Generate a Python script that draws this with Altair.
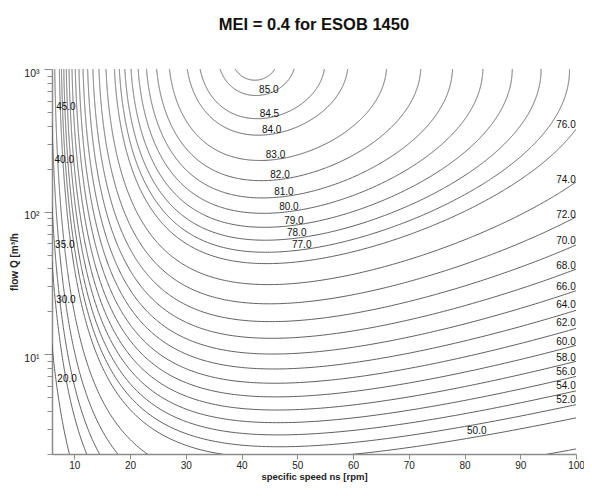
import numpy as np
import pandas as pd
import altair as alt

TITLE = "MEI = 0.4 for ESOB 1450"
X_TITLE = "specific speed ns [rpm]"
Y_TITLE = "flow Q [m³/h"

# Published minimum-efficiency equation behind the chart (ESOB 1450, MEI = 0.4):
# eta = c_x*x + c_y*y + c_xx*x^2 + c_yy*y^2 + c_xy*x*y - C,  x = ln(ns), y = ln(Q)
eq_terms = ["x", "y", "xx", "yy", "xy"]
eq_coefficients = [88.59, 13.46, -11.48, -0.85, -0.38]
eq_constant = 128.07

# contour levels drawn in the reference
contour_levels = [20, 30, 35, 40, 45, 50, 52, 54, 56, 58, 60, 62, 64, 66, 68, 70,
                  72, 74, 76, 77, 78, 79, 80, 81, 82, 83, 84, 84.5, 85, 85.2]

# contour labels (text, ns, Q)
label_text = ["85.0", "84.5", "84.0", "83.0", "82.0", "81.0", "80.0", "79.0", "78.0", "77.0",
              "76.0", "74.0", "72.0", "70.0", "68.0", "66.0", "64.0", "62.0", "60.0", "58.0",
              "56.0", "54.0", "52.0", "50.0", "45.0", "40.0", "35.0", "30.0", "20.0"]
label_ns = [44.9, 45.0, 45.4, 46.1, 46.9, 47.6, 48.5, 49.4, 49.9, 50.8,
            98.2, 98.2, 98.2, 98.2, 98.2, 98.2, 98.2, 98.2, 98.2, 98.2,
            98.2, 98.2, 98.2, 82.2, 8.5, 8.2, 8.3, 8.5, 8.7]
label_q = [709, 483, 374, 249, 181, 138, 107, 86.6, 70.3, 58.1,
           405, 167, 95.3, 61.9, 41.5, 29.7, 22.0, 16.7, 12.1, 9.38,
           7.50, 6.00, 4.82, 2.90, 545, 230, 58.5, 24.1, 6.70]

ns_domain = [6, 100]
q_domain = [2, 1000]
x_ticks = [10, 15, 20, 25, 30, 35, 40, 45, 50, 55, 60, 65, 70, 75, 80, 85, 90, 95, 100]
y_ticks = [2, 3, 4, 5, 6, 7, 8, 9, 10, 20, 30, 40, 50, 60, 70, 80, 90,
           100, 200, 300, 400, 500, 600, 700, 800, 900, 1000]

# ---- contour lines of the equation (ellipses in ln-ln space) ----
cx, cy, cxx, cyy, cxy = eq_coefficients
A = np.array([[2 * cxx, cxy], [cxy, 2 * cyy]])
xc, yc = np.linalg.solve(A, [-cx, -cy])


def eta(x, y):
    return cx * x + cy * y + cxx * x * x + cyy * y * y + cxy * x * y - eq_constant


fmax = eta(xc, yc)
n = 2400
th = np.linspace(0, 2 * np.pi, n, endpoint=False)
c, s = np.cos(th), np.sin(th)
qd = cxx * c * c + cxy * c * s + cyy * s * s

rows = []
seg = 0
for L in contour_levels:
    r = np.sqrt((L - fmax) / qd)
    ns = np.exp(xc + r * c)
    q = np.exp(yc + r * s)
    inside = (ns >= ns_domain[0]) & (ns <= ns_domain[1]) & (q >= q_domain[0]) & (q <= q_domain[1])
    if not inside.any():
        continue
    start = int(np.argmin(inside))
    idx = np.roll(np.arange(n), -start)
    ins = inside[idx]
    i = 0
    while i < n:
        if ins[i]:
            j = i
            while j < n and ins[j]:
                j += 1
            run = [idx[(i - 1) % n]] + list(idx[i:j]) + [idx[j % n]]
            for k, p in enumerate(run):
                rows.append((seg, k, round(float(ns[p]), 3), float(f"{q[p]:.5g}"), L))
            seg += 1
            i = j
        else:
            i += 1

df = pd.DataFrame(rows, columns=["seg", "k", "ns", "q", "level"])
lab_df = pd.DataFrame({"txt": label_text, "ns": label_ns, "q": label_q})

FONT = "Liberation Sans"

x_scale = alt.Scale(domain=ns_domain, zero=False, nice=False)
y_scale = alt.Scale(type="log", domain=q_domain, nice=False)

x_axis = alt.Axis(
    values=x_ticks,
    labelExpr="datum.value % 10 == 0 ? datum.label : ''",
    tickSize={"condition": {"test": "datum.value % 10 == 0", "value": 5}, "value": 3},
    labelFlush=False, labelOverlap=False, labelPadding=1, titlePadding=1, grid=False,
    titleFontSize=9.5,
)
y_axis = alt.Axis(
    values=y_ticks,
    labelExpr="datum.value == 10 ? '10¹' : datum.value == 100 ? '10²' : datum.value == 1000 ? '10³' : ''",
    tickSize={"condition": {"test": "datum.value == 10 || datum.value == 100 || datum.value == 1000",
                            "value": 8}, "value": 5},
    labelOverlap=False, labelPadding=5, labelOffset=4, labelFontSize=10.5, titlePadding=4, grid=False,
)

lines = alt.Chart(df).mark_line(clip=True, color="#606060", strokeWidth=1).encode(
    x=alt.X("ns:Q", scale=x_scale, axis=x_axis, title=X_TITLE),
    y=alt.Y("q:Q", scale=y_scale, axis=y_axis, title=Y_TITLE),
    detail="seg:N",
    order="k:Q",
)

labels = alt.Chart(lab_df).mark_text(font=FONT, fontSize=10, color="#111111").encode(
    x=alt.X("ns:Q", scale=x_scale),
    y=alt.Y("q:Q", scale=y_scale),
    text="txt:N",
)

chart = alt.layer(lines, labels).properties(
    width=524,
    height=385,
    title=alt.TitleParams(TITLE, font=FONT, fontSize=16.5, fontWeight="bold",
                          color="#111111", anchor="middle", baseline="alphabetic", offset=22),
    autosize=alt.AutoSizeParams(type="none"),
    padding={"left": 44, "top": 61, "right": 8, "bottom": 29},
).configure_view(stroke=None).configure_axis(
    domainColor="#8c8c8c", domainWidth=1.5, tickColor="#8c8c8c", tickWidth=1,
    labelFont=FONT, labelFontSize=10, labelColor="#222222",
    titleFont=FONT, titleFontSize=10, titleFontWeight="bold", titleColor="#222222",
)

chart.save("out.html", embed_options={"renderer": "svg", "actions": False})
